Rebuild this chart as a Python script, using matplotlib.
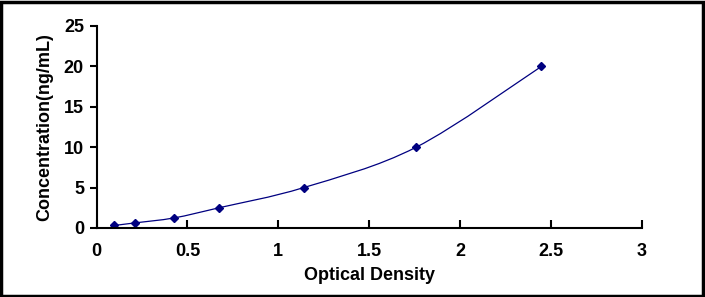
import matplotlib
matplotlib.use("Agg")
import matplotlib.pyplot as plt
from matplotlib.path import Path
from matplotlib.patches import PathPatch, Rectangle

od = [0.097, 0.209, 0.427, 0.673, 1.139, 1.758, 2.447]
conc = [0.312, 0.625, 1.25, 2.5, 5, 10, 20]
x_ticks = [0, 0.5, 1, 1.5, 2, 2.5, 3]
x_labels = ["0", "0.5", "1", "1.5", "2", "2.5", "3"]
y_ticks = [0, 5, 10, 15, 20, 25]
y_labels = ["0", "5", "10", "15", "20", "25"]

plt.rcParams['font.family'] = ['Liberation Sans', 'DejaVu Sans']

fig = plt.figure(figsize=(7.05, 2.97), dpi=100)
ax = fig.add_axes([96.5 / 705, 1 - 228 / 297, (642 - 96.5) / 705, (228 - 26) / 297])

# smooth curve like Excel's (Catmull-Rom turned into bezier segments)
verts = [(od[0], conc[0])]
codes = [Path.MOVETO]
n = len(od)
for i in range(n - 1):
    x0, y0 = (od[i - 1], conc[i - 1]) if i > 0 else (od[i], conc[i])
    x1, y1 = od[i], conc[i]
    x2, y2 = od[i + 1], conc[i + 1]
    x3, y3 = (od[i + 2], conc[i + 2]) if i + 2 < n else (x2, y2)
    c1 = (x1 + (x2 - x0) / 6, y1 + (y2 - y0) / 6)
    c2 = (x2 - (x3 - x1) / 6, y2 - (y3 - y1) / 6)
    verts += [c1, c2, (x2, y2)]
    codes += [Path.CURVE4] * 3
ax.add_patch(PathPatch(Path(verts, codes), fill=False, edgecolor="#000080", lw=0.9))

ax.plot(od, conc, linestyle="none", marker="D", markersize=4.5, color="#000080")

ax.set_xlim(0, 3)
ax.set_ylim(0, 25)
ax.set_xticks(x_ticks)
ax.set_xticklabels(x_labels, fontweight="bold", fontsize=13)
ax.set_yticks(y_ticks)
ax.set_yticklabels(y_labels, fontweight="bold", fontsize=13)
ax.tick_params(axis="x", direction="in", length=6, width=1.5, pad=11)
ax.tick_params(axis="y", direction="out", length=5, width=1.5, pad=4)
for s in ["top", "right"]:
    ax.spines[s].set_visible(False)
for s in ["left", "bottom"]:
    ax.spines[s].set_linewidth(1.5)

ax.set_xlabel("Optical Density", fontsize=13, fontweight="bold", labelpad=5)
ax.set_ylabel("Concentration(ng/mL)", fontsize=13, fontweight="bold", labelpad=8)

fig.patches.append(Rectangle((0.002, 0.004), 0.995, 0.99, transform=fig.transFigure,
                             fill=False, edgecolor="black", lw=2.5))

fig.savefig("out.png", dpi=100)
